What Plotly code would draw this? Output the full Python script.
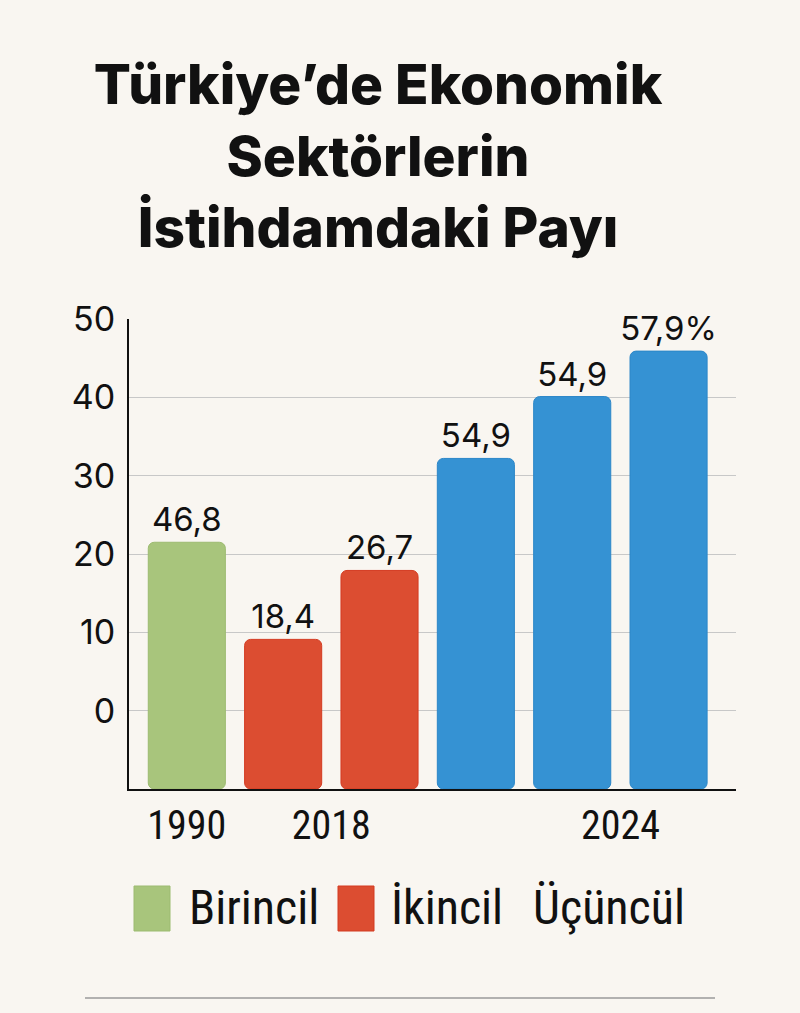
"""Türkiye'de ekonomik sektörlerin istihdamdaki payı - Plotly sütun grafiği"""
import plotly.graph_objects as go

# --- veri ---
title_lines = ["Türkiye’de Ekonomik", "Sektörlerin", "İstihdamdaki Payı"]
bar_sectors = ["Birincil", "İkincil", "İkincil", "Üçüncül", "Üçüncül", "Üçüncül"]
bar_values = [21.5, 9.1, 17.9, 32.2, 40.1, 45.9]      # eksende okunan üst değerler
bar_labels = ["46,8", "18,4", "26,7", "54,9", "54,9", "57,9%"]
year_labels = ["1990", "2018", "2024"]
year_ticks = [0, 1.5, 4.5]
y_ticks = [0, 10, 20, 30, 40, 50]
sectors = ["Birincil", "İkincil", "Üçüncül"]

colors = {"Birincil": "#a8c57c", "İkincil": "#dc4d31", "Üçüncül": "#3592d3"}
line_colors = {"Birincil": "#9cbb70", "İkincil": "#d43a20", "Üçüncül": "#2b86c8"}

BG = "#f9f6f1"
W, H = 800, 1013
L, R, T, B = 129, 64, 319, 224
AXIS_FLOOR = -10

COND = "Liberation Sans Narrow, Roboto Condensed, Roboto, sans-serif"
NUM = "Inter, Roboto, sans-serif"


def px_x(p):
    return (p - L) / (W - L - R)


def px_y(p):
    return (H - B - p) / (H - T - B)


fig = go.Figure()

for sector in sectors:
    idx = [i for i, s in enumerate(bar_sectors) if s == sector]
    fig.add_trace(go.Bar(
        x=idx,
        y=[bar_values[i] - AXIS_FLOOR for i in idx],
        base=AXIS_FLOOR,
        text=[bar_labels[i] for i in idx],
        textposition="outside",
        textfont=dict(family=NUM, size=33, color="#111111"),
        constraintext="none",
        cliponaxis=False,
        name=sector,
        showlegend=False,
        hoverinfo="skip",
        marker=dict(color=colors[sector], cornerradius=6,
                    line=dict(color=line_colors[sector], width=1)),
    ))

fig.update_layout(
    width=W, height=H,
    paper_bgcolor=BG, plot_bgcolor=BG,
    margin=dict(l=L, r=R, t=T, b=B),
    bargap=0.2,
    title=dict(
        text="<br>".join(title_lines),
        font=dict(family=NUM, size=55, color="#111111", weight=800),
        x=378 / W, xanchor="center",
        y=1 - 104 / H, yanchor="top", yref="container",
    ),
    xaxis=dict(
        range=[-0.6, 5.7],
        tickvals=year_ticks, ticktext=year_labels,
        tickfont=dict(family=COND, size=40, color="#111111"),
        showgrid=False, zeroline=False,
        showline=True, linecolor="#111111", linewidth=2,
        ticks="", ticklabelstandoff=0,
    ),
    yaxis=dict(
        range=[AXIS_FLOOR, 50],
        tickvals=y_ticks,
        tickfont=dict(family=NUM, size=34, color="#111111"),
        showgrid=True, gridcolor="#c8c8c8", gridwidth=1.2,
        zeroline=False,
        showline=True, linecolor="#111111", linewidth=2,
        ticks="", ticklabelstandoff=5,
    ),
)

shapes = []
annotations = []

# elle çizilen gösterge
legend_text_left = [187, 389, 531]
legend_box_left = [134, 338, None]
for sector, tx, bx in zip(sectors, legend_text_left, legend_box_left):
    if bx is not None:
        shapes.append(dict(
            type="rect", xref="paper", yref="paper",
            x0=px_x(bx), x1=px_x(bx + 36), y0=px_y(931), y1=px_y(886),
            fillcolor=colors[sector], line=dict(color=line_colors[sector], width=1),
        ))
    annotations.append(dict(
        text=sector, xref="paper", yref="paper",
        x=px_x(tx), y=px_y(908), xanchor="left", yanchor="middle",
        showarrow=False, font=dict(family=COND, size=48, color="#111111"),
    ))

shapes.append(dict(
    type="line", xref="paper", yref="paper",
    x0=px_x(85), x1=px_x(715), y0=px_y(998), y1=px_y(998),
    line=dict(color="#9a9a9a", width=1.5),
))

fig.update_layout(shapes=shapes, annotations=annotations)

# sayfa kenar boşluğunu kaldır
fig.write_html("out.html", config={"displayModeBar": False},
               post_script="document.body.style.margin='0';")
